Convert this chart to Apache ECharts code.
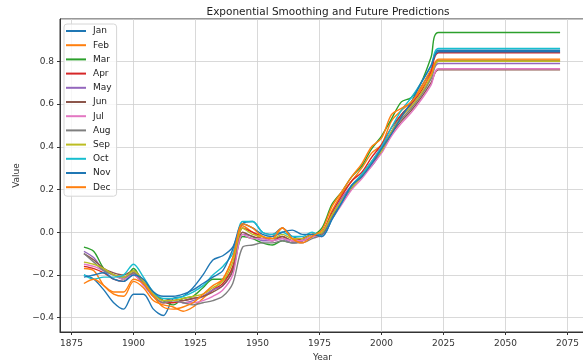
<!DOCTYPE html>
<html>
<head>
<meta charset="utf-8">
<script src="https://cdn.jsdelivr.net/npm/echarts@6/dist/echarts.min.js"></script>
<style>
  html, body { margin: 0; padding: 0; background: #fff; }
  #main { width: 583px; height: 364px; }
</style>
</head>
<body>
<div id="main"></div>
<script>
// smoothed history, read every 4 years from the picture
var years = [1880, 1884, 1888, 1892, 1896, 1900, 1904, 1908, 1912, 1916, 1920, 1924,
             1928, 1932, 1936, 1940, 1944, 1948, 1952, 1956, 1960, 1964, 1968, 1972,
             1976, 1980, 1984, 1988, 1992, 1996, 2000, 2004, 2008, 2012, 2016, 2020];

var jan = [-0.20, -0.22, -0.27, -0.33, -0.36, -0.29, -0.29, -0.36, -0.39, -0.31, -0.30, -0.26,
           -0.20, -0.13, -0.11, -0.07, 0.04, 0.05, 0.00, -0.01, 0.02, -0.02, -0.03, -0.01,
           -0.01, 0.07, 0.14, 0.21, 0.27, 0.31, 0.38, 0.47, 0.55, 0.60, 0.68, 0.76];
var feb = [-0.17, -0.18, -0.25, -0.29, -0.30, -0.23, -0.26, -0.32, -0.34, -0.35, -0.37, -0.35,
           -0.31, -0.27, -0.22, -0.12, 0.03, 0.00, -0.03, -0.02, 0.02, -0.03, -0.04, -0.02,
           -0.01, 0.10, 0.18, 0.24, 0.30, 0.37, 0.41, 0.52, 0.57, 0.61, 0.68, 0.76];
var mar = [-0.07, -0.09, -0.17, -0.20, -0.22, -0.17, -0.24, -0.28, -0.32, -0.34, -0.31, -0.30,
           -0.26, -0.22, -0.22, -0.17, -0.02, -0.03, -0.05, -0.06, -0.04, -0.05, -0.04, -0.02,
           0.02, 0.13, 0.19, 0.26, 0.31, 0.39, 0.45, 0.53, 0.61, 0.63, 0.70, 0.82];
var apr = [-0.16, -0.17, -0.19, -0.22, -0.23, -0.19, -0.24, -0.30, -0.33, -0.33, -0.32, -0.31,
           -0.30, -0.27, -0.24, -0.16, 0.02, 0.00, -0.02, -0.04, -0.02, -0.04, -0.03, -0.01,
           0.00, 0.09, 0.17, 0.24, 0.28, 0.35, 0.41, 0.49, 0.55, 0.60, 0.66, 0.75];
var may = [-0.09, -0.12, -0.18, -0.20, -0.21, -0.20, -0.24, -0.29, -0.32, -0.32, -0.33, -0.32,
           -0.30, -0.27, -0.25, -0.18, -0.01, -0.02, -0.04, -0.04, -0.03, -0.05, -0.04, -0.02,
           -0.01, 0.08, 0.16, 0.22, 0.27, 0.33, 0.40, 0.47, 0.54, 0.59, 0.65, 0.72];
var jun = [-0.10, -0.13, -0.17, -0.19, -0.20, -0.18, -0.23, -0.28, -0.32, -0.31, -0.32, -0.31,
           -0.30, -0.28, -0.25, -0.18, 0.00, -0.02, -0.03, -0.03, -0.02, -0.04, -0.04, -0.02,
           -0.01, 0.07, 0.14, 0.21, 0.26, 0.32, 0.38, 0.46, 0.52, 0.57, 0.63, 0.70];
var jul = [-0.15, -0.16, -0.18, -0.20, -0.22, -0.20, -0.25, -0.30, -0.33, -0.32, -0.33, -0.33,
           -0.32, -0.30, -0.27, -0.20, -0.01, -0.03, -0.03, -0.04, -0.03, -0.04, -0.04, -0.02,
           -0.02, 0.06, 0.13, 0.20, 0.25, 0.31, 0.37, 0.45, 0.51, 0.56, 0.62, 0.69];
var aug = [-0.10, -0.14, -0.18, -0.20, -0.21, -0.19, -0.24, -0.30, -0.33, -0.32, -0.33, -0.34,
           -0.33, -0.32, -0.30, -0.24, -0.07, -0.06, -0.05, -0.05, -0.04, -0.05, -0.05, -0.03,
           -0.01, 0.08, 0.15, 0.21, 0.27, 0.33, 0.39, 0.47, 0.53, 0.58, 0.64, 0.72];
var sep = [-0.14, -0.15, -0.17, -0.20, -0.21, -0.18, -0.23, -0.29, -0.32, -0.32, -0.31, -0.30,
           -0.29, -0.26, -0.23, -0.14, 0.02, -0.01, -0.02, -0.03, -0.01, -0.03, -0.03, -0.01,
           0.00, 0.08, 0.15, 0.21, 0.26, 0.33, 0.38, 0.47, 0.54, 0.59, 0.65, 0.73];
var oct = [-0.20, -0.22, -0.21, -0.21, -0.20, -0.15, -0.21, -0.28, -0.31, -0.31, -0.30, -0.28,
           -0.25, -0.20, -0.16, -0.10, 0.05, 0.05, 0.00, -0.01, 0.00, -0.02, -0.02, 0.00,
           -0.02, 0.06, 0.14, 0.22, 0.27, 0.33, 0.40, 0.49, 0.57, 0.63, 0.70, 0.78];
var nov = [-0.21, -0.20, -0.19, -0.22, -0.23, -0.20, -0.22, -0.28, -0.30, -0.30, -0.29, -0.27,
           -0.24, -0.21, -0.18, -0.08, 0.04, 0.02, -0.01, -0.02, 0.00, 0.01, -0.01, -0.01,
           -0.02, 0.06, 0.14, 0.22, 0.26, 0.32, 0.39, 0.46, 0.54, 0.61, 0.70, 0.78];
var dec = [-0.24, -0.22, -0.25, -0.28, -0.28, -0.22, -0.24, -0.30, -0.35, -0.36, -0.35, -0.33,
           -0.29, -0.25, -0.22, -0.12, 0.04, 0.02, -0.02, -0.03, 0.02, -0.03, -0.05, -0.02,
           0.01, 0.12, 0.19, 0.26, 0.32, 0.40, 0.44, 0.55, 0.58, 0.61, 0.67, 0.74];

// flat prediction for each month
var predYears = [2023, 2072];
var forecast = [0.852, 0.805, 0.935, 0.84, 0.79, 0.76, 0.765, 0.80, 0.80, 0.86, 0.845, 0.81];

var months = ['Jan', 'Feb', 'Mar', 'Apr', 'May', 'Jun', 'Jul', 'Aug', 'Sep', 'Oct', 'Nov', 'Dec'];
var monthSeries = [jan, feb, mar, apr, may, jun, jul, aug, sep, oct, nov, dec];

var palette = ['#1f77b4', '#ff7f0e', '#2ca02c', '#d62728', '#9467bd', '#8c564b',
               '#e377c2', '#7f7f7f', '#bcbd22', '#17becf', '#1f77b4', '#ff7f0e'];

var series = months.map(function (m, i) {
    var pts = years.map(function (y, j) { return [y, monthSeries[i][j]]; });
    predYears.forEach(function (y) { pts.push([y, forecast[i]]); });
    return {
        name: m,
        type: 'line',
        data: pts,
        showSymbol: false,
        symbol: 'none',
        smooth: 0.3,
        lineStyle: { width: 1.4 }
    };
});

var myChart = echarts.init(document.getElementById('main'), null, { renderer: 'canvas' });

var labelFont = { color: '#333', fontSize: 9, fontFamily: 'DejaVu Sans' };

var option = {
    animation: false,
    color: palette,
    title: {
        text: 'Exponential Smoothing and Future Predictions',
        left: 323,
        textAlign: 'center',
        top: 2,
        textStyle: { fontSize: 10.5, fontWeight: 'normal', color: '#222', fontFamily: 'DejaVu Sans' }
    },
    legend: {
        orient: 'vertical',
        left: 64,
        top: 24,
        padding: [2, 5, 4, 2],
        itemGap: 4.2,
        itemWidth: 20,
        itemHeight: 2,
        icon: 'rect',
        backgroundColor: 'rgba(255,255,255,0.8)',
        borderColor: '#d6d6d6',
        borderWidth: 1,
        borderRadius: 3,
        textStyle: { fontSize: 9, lineHeight: 10, color: '#222', fontFamily: 'DejaVu Sans', padding: [0, 0, 0, 2] },
        data: months
    },
    grid: {
        left: 60,
        right: -2,
        top: 19,
        bottom: 32,
        outerBoundsMode: 'none',
        show: true,
        borderColor: '#333',
        borderWidth: 1
    },
    xAxis: {
        type: 'value',
        min: 1870.35,
        max: 2082.05,
        minInterval: 25,
        maxInterval: 25,
        name: 'Year',
        nameLocation: 'middle',
        nameGap: 21,
        nameTextStyle: labelFont,
        axisLine: { show: true, onZero: false, lineStyle: { color: '#333' } },
        axisTick: { show: true, length: 3, lineStyle: { color: '#333' } },
        axisLabel: Object.assign({
            margin: 7,
            showMinLabel: false,
            showMaxLabel: false,
            formatter: function (v) { return String(Math.round(v)); }
        }, labelFont),
        splitLine: { show: true, lineStyle: { color: '#cfcfcf', width: 0.8 } }
    },
    yAxis: {
        type: 'value',
        min: -0.467,
        max: 0.998,
        minInterval: 0.2,
        maxInterval: 0.2,
        name: 'Value',
        nameLocation: 'middle',
        nameGap: 30,
        nameTextStyle: labelFont,
        axisLine: { show: true, onZero: false, lineStyle: { color: '#333' } },
        axisTick: { show: true, length: 3, lineStyle: { color: '#333' } },
        axisLabel: Object.assign({
            margin: 6,
            showMinLabel: false,
            showMaxLabel: false,
            formatter: function (v) { return v < 0 ? '\u2212' + Math.abs(v).toFixed(1) : v.toFixed(1); }
        }, labelFont),
        splitLine: { show: true, lineStyle: { color: '#cfcfcf', width: 0.8 } }
    },
    series: series
};

myChart.setOption(option);
</script>
</body>
</html>
